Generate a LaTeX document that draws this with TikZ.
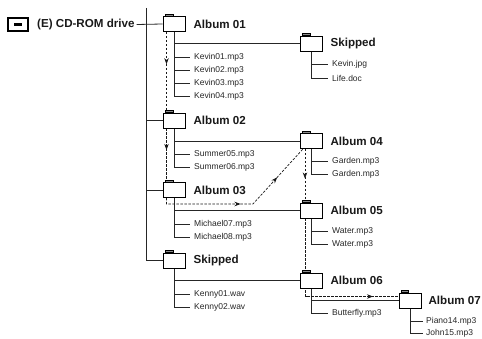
\documentclass[tikz,border=0pt]{standalone}
\usepackage{fontspec}
\setmainfont{Liberation Sans}
\usetikzlibrary{arrows.meta,decorations.markings,backgrounds}
\tikzset{
 ln/.style={draw=black!85, line width=0.8pt},
 dsh/.style={draw=black!90, line width=0.7pt, dash pattern=on 2.5pt off 1.5pt},
 folder/.style={draw=black, fill=white, line width=0.8pt, minimum width=22pt, minimum height=15pt, inner sep=0pt},
 tabst/.style={draw=black, fill=black!45, line width=0.5pt},
 flabel/.style={font=\bfseries\fontsize{11.6}{14}\selectfont, text=black!90, inner sep=0pt, anchor=west},
 file/.style={font=\fontsize{8.5}{10}\selectfont, text=black!85, inner sep=0pt, anchor=west},
 tipmark/.style={postaction={decorate}, decoration={markings, mark=at position #1 with {\arrow{Stealth[length=6pt,width=4.5pt]}}}},
}
\newcommand\fld[4]{%
  \node[folder] (#1) at (#2,#3) {};
  \filldraw[tabst] ([xshift=3pt]#1.north west) rectangle ++(8pt,2pt);
  \node[flabel] (#1t) at ([xshift=8pt]#1.east) {#4};}
\newcommand\fil[4]{\node[file] (#1) at (#2,#3) {#4};}
\begin{document}
\begin{tikzpicture}[x=1pt,y=-1pt]
\useasboundingbox (0,0) rectangle (482,339);
% drive
\node[draw=black, line width=2.2pt, minimum width=19.5pt, minimum height=12.5pt, inner sep=0pt] (icon) at (18,24.5) {};
\node[fill=black, minimum width=8pt, minimum height=2.5pt, inner sep=0pt] (bar) at (icon.center) {};
\node[flabel] (cd) at (37,24.5) {(E) CD-ROM drive};
\coordinate (top) at (146,8);
% folders
\fld{a1}{174}{24}{Album 01}
\fld{s1}{311}{43.5}{Skipped}
\fld{a2}{174}{120.5}{Album 02}
\fld{a3}{174}{190}{Album 03}
\fld{s2}{174}{260.5}{Skipped}
\fld{a4}{311}{141}{Album 04}
\fld{a5}{311}{210.5}{Album 05}
\fld{a6}{311}{280.5}{Album 06}
\node[folder] (a7) at (410,300.5) {};
\filldraw[tabst] ([xshift=3pt]a7.north west) rectangle ++(7pt,2pt);
\node[flabel] (a7t) at ([xshift=7pt]a7.east) {Album 07};
% files
\fil{k1}{194}{57}{Kevin01.mp3}
\fil{k2}{194}{70}{Kevin02.mp3}
\fil{k3}{194}{83}{Kevin03.mp3}
\fil{k4}{194}{96.5}{Kevin04.mp3}
\fil{j1}{332}{64}{Kevin.jpg}
\fil{j2}{332}{78}{Life.doc}
\fil{m1}{194}{154}{Summer05.mp3}
\fil{m2}{194}{167}{Summer06.mp3}
\fil{g1}{332}{161}{Garden.mp3}
\fil{g2}{332}{174}{Garden.mp3}
\fil{h1}{194}{224}{Michael07.mp3}
\fil{h2}{194}{237}{Michael08.mp3}
\fil{w1}{332}{231}{Water.mp3}
\fil{w2}{332}{244}{Water.mp3}
\fil{n1}{194}{294}{Kenny01.wav}
\fil{n2}{194}{307}{Kenny02.wav}
\fil{b1}{332}{313}{Butterfly.mp3}
\fil{p1}{426}{321.5}{Piano14.mp3}
\fil{p2}{426}{333}{John15.mp3}
\begin{scope}[on background layer]
% main tree
\draw[ln] ([xshift=2pt]cd.east) -- (a1.west);
\draw[ln] (top) |- (s2.west);
\draw[ln] (a2.west) -- (a2.west -| top);
\draw[ln] (a3.west) -- (a3.west -| top);
% subtrees
\draw[ln] (s1.west) -| (a1.south);
\draw[ln] (a1.south) -- (a1.south |- k4.west);
\foreach \n in {k1,k2,k3,k4} \draw[ln] (a1.south |- \n.west) -- ([xshift=-4pt]\n.west);
\draw[ln] (s1.south) -- (s1.south |- j2.west);
\foreach \n in {j1,j2} \draw[ln] (s1.south |- \n.west) -- ([xshift=-4pt]\n.west);
\draw[ln] (a4.west) -| (a2.south);
\draw[ln] (a2.south) -- (a2.south |- m2.west);
\foreach \n in {m1,m2} \draw[ln] (a2.south |- \n.west) -- ([xshift=-4pt]\n.west);
\draw[ln] (a4.south) -- (a4.south |- g2.west);
\foreach \n in {g1,g2} \draw[ln] (a4.south |- \n.west) -- ([xshift=-4pt]\n.west);
\draw[ln] (a5.west) -| (a3.south);
\draw[ln] (a3.south) -- (a3.south |- h2.west);
\foreach \n in {h1,h2} \draw[ln] (a3.south |- \n.west) -- ([xshift=-4pt]\n.west);
\draw[ln] (a5.south) -- (a5.south |- w2.west);
\foreach \n in {w1,w2} \draw[ln] (a5.south |- \n.west) -- ([xshift=-4pt]\n.west);
\draw[ln] (a6.west) -| (s2.south);
\draw[ln] (s2.south) -- (s2.south |- n2.west);
\foreach \n in {n1,n2} \draw[ln] (s2.south |- \n.west) -- ([xshift=-4pt]\n.west);
\draw[ln] (a7.west) -| (a6.south);
\draw[ln] (a6.south) -- (a6.south |- b1.west);
\draw[ln] (a6.south |- b1.west) -- ([xshift=-4pt]b1.west);
\draw[ln] (a7.south) -- (a7.south |- p2.west);
\foreach \n in {p1,p2} \draw[ln] (a7.south |- \n.west) -- ([xshift=-3pt]\n.west);
% dashed play order
\coordinate (d1) at (253,204);
\draw[dsh, tipmark=0.4] ([xshift=-7.5pt]a1.south) -- ([xshift=-7.5pt]a2.north);
\draw[dsh, tipmark=0.4] ([xshift=-7.5pt]a2.south) -- ([xshift=-7.5pt]a3.north);
\draw[dsh, postaction={decorate}, decoration={markings,
   mark=at position 0.48 with {\arrow{Stealth[length=6pt,width=4.5pt]}},
   mark=at position 0.77 with {\arrow{Stealth[length=6pt,width=4.5pt]}}}]
   ([xshift=-7.5pt]a3.south) |- (d1) -- ([xshift=-8pt]a4.south);
\draw[dsh, tipmark=0.55] ([xshift=-6pt]a4.south) -- ([xshift=-6pt]a5.north);
\draw[dsh, tipmark=0.85] ([xshift=-5.5pt]a5.south) |- ([yshift=4pt]a7.west);
\end{scope}
\end{tikzpicture}
\end{document}
